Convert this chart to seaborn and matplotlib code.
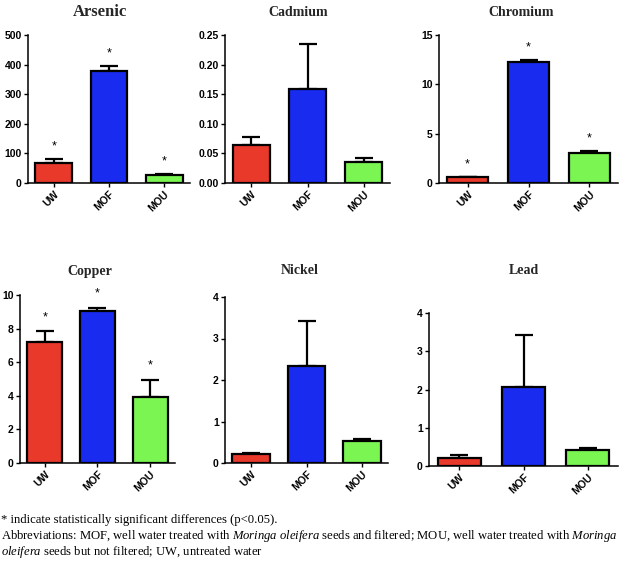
import matplotlib
matplotlib.use("Agg")
import matplotlib.pyplot as plt
import seaborn as sns
import numpy as np
import pandas as pd

groups = ["UW", "MOF", "MOU"]
bar_colors = ["#E8392B", "#1A2BF0", "#7AF552"]

arsenic_mean = [66, 380, 27]
arsenic_sem = [14, 15, 2]
cadmium_mean = [0.065, 0.158, 0.036]
cadmium_sem = [0.012, 0.076, 0.006]
chromium_mean = [0.6, 12.3, 3.05]
chromium_sem = [0.05, 0.15, 0.2]
copper_mean = [7.2, 9.05, 3.9]
copper_sem = [0.65, 0.2, 1.05]
nickel_mean = [0.21, 2.33, 0.53]
nickel_sem = [0.04, 1.1, 0.06]
lead_mean = [0.22, 2.06, 0.43]
lead_sem = [0.06, 1.37, 0.05]

W, H = 621, 576

# name, mean, sem, ymax, step, fmt, significant, axes box (px: left, right, top, bottom),
# title (px x, px y, size)
panels = [
    ("Arsenic", arsenic_mean, arsenic_sem, 500, 100, "{:.0f}", True, (28, 190, 35, 183), (100, 12, 12)),
    ("Cadmium", cadmium_mean, cadmium_sem, 0.25, 0.05, "{:.2f}", False, (225, 390, 35, 183), (298, 13, 10)),
    ("Chromium", chromium_mean, chromium_sem, 15, 5, "{:.0f}", True, (439, 618, 35, 183), (521, 13, 10)),
    ("Copper", copper_mean, copper_sem, 10, 2, "{:.0f}", True, (20, 175, 295, 463), (90, 271, 10)),
    ("Nickel", nickel_mean, nickel_sem, 4, 1, "{:.0f}", False, (225, 388, 297, 463), (300, 271, 10)),
    ("Lead", lead_mean, lead_sem, 4, 1, "{:.0f}", False, (429, 618, 313, 466), (524, 271, 10)),
]

sns.set_theme(style="ticks")
plt.rcParams["font.family"] = ["Liberation Sans Narrow", "Liberation Sans", "DejaVu Sans"]
plt.rcParams["mathtext.fontset"] = "custom"
plt.rcParams["mathtext.rm"] = "Liberation Serif"
plt.rcParams["mathtext.it"] = "Liberation Serif:italic"

fig = plt.figure(figsize=(W / 100, H / 100), dpi=100)

for name, mean, sem, ymax, step, fmt, sig, box, title in panels:
    l, r, t, b = box
    ax = fig.add_axes([l / W, 1 - b / H, (r - l) / W, (b - t) / H])
    df = pd.DataFrame({"group": groups, "value": mean})
    sns.barplot(data=df, x="group", y="value", hue="group", palette=bar_colors,
                legend=False, width=0.67, edgecolor="black", linewidth=1.6,
                saturation=1, ax=ax, zorder=3)
    xs = np.arange(len(groups))
    ax.errorbar(xs, mean, yerr=[np.zeros(len(mean)), sem], fmt="none",
                ecolor="black", elinewidth=1.6, capsize=6.5, capthick=1.6, zorder=2)
    if sig:
        for x, m, s in zip(xs, mean, sem):
            ax.text(x, m + s + 0.065 * ymax, "*", ha="center", va="baseline",
                    fontsize=9, color="black")
    ax.set_xlim(-0.47, 2.47)
    ax.set_ylim(0, ymax)
    ticks = np.arange(0, ymax + step / 2, step)
    ax.set_yticks(ticks)
    ax.set_yticklabels([fmt.format(v) for v in ticks], fontsize=7.5, fontweight="bold")
    ax.set_xticks(xs)
    ax.set_xticklabels(groups, rotation=45, ha="right", rotation_mode="anchor",
                       fontsize=7.5, fontweight="bold")
    ax.set_xlabel("")
    ax.set_ylabel("")
    sns.despine(ax=ax)
    for sp in ("left", "bottom"):
        ax.spines[sp].set_linewidth(1.1)
        ax.spines[sp].set_color("black")
    ax.tick_params(axis="both", length=3, width=1, pad=1.5, colors="black")
    tx, ty, ts = title
    fig.text(tx / W, 1 - ty / H, name, ha="center", va="center", fontsize=ts,
             fontweight="bold", family="Liberation Serif")

foot = [
    "* indicate statistically significant differences (p<0.05).",
    r"Abbreviations: MOF, well water treated with $\mathit{Moringa\ oleifera}$ seeds and filtered; "
    r"MOU, well water treated with $\mathit{Moringa}$",
    r"$\mathit{oleifera}$ seeds but not filtered; UW, untreated water",
]
for i, line in enumerate(foot):
    fig.text(1 / W, 1 - (520 + 16 * i) / H, line, ha="left", va="center",
             fontsize=9.1, family="Liberation Serif", color="black")

fig.savefig("out.png", dpi=100, facecolor="white")
